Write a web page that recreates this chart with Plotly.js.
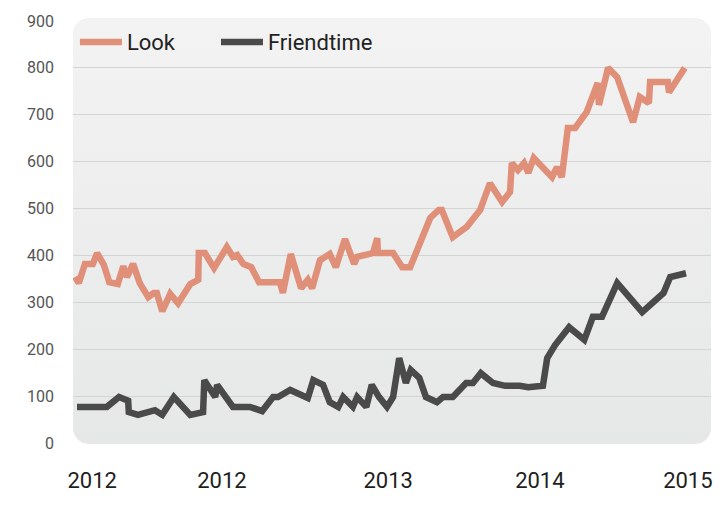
<!DOCTYPE html>
<html>
<head>
<meta charset="utf-8">
<script src="https://cdn.plot.ly/plotly-3.0.1.min.js"></script>
<style>html,body{margin:0;padding:0;background:#fff;}#chart{width:720px;height:529px;}</style>
</head>
<body>
<div id="chart"></div>
<script>
// time index (0 = first observation, 100 = last)
const lookT = [-0.3,0.3,1.3,2.6,3.3,4.4,5.3,6.7,7.6,8.2,9.2,10.3,11.7,12.6,13.1,14.0,15.3,16.6,18.6,19.9,20.0,21.0,22.5,24.6,25.6,26.3,27.3,28.6,29.9,33.3,33.8,35.1,36.8,37.9,38.6,39.9,41.5,42.5,44.0,45.5,46.0,48.6,49.3,49.4,51.9,53.4,54.7,58.0,59.4,59.9,61.7,64.0,66.2,67.8,69.8,71.1,71.4,72.4,73.4,74.1,75.0,78.0,78.8,79.6,80.6,81.8,83.7,85.5,85.7,87.2,88.7,90.0,91.3,92.4,93.9,94.1,97.0,97.2,99.8];
const lookVals = [354,341,382,382,405,380,343,339,377,354,382,341,311,320,320,281,318,298,339,348,405,405,373,418,397,401,382,375,343,343,320,403,330,348,330,390,403,375,435,382,397,405,437,405,405,375,375,480,497,497,439,461,497,554,514,535,597,582,597,576,608,567,588,567,672,672,706,768,721,800,780,736,684,738,725,770,770,748,800];

const friendT = [0,4.9,6.9,8.4,8.5,10.0,12.8,14.0,15.9,18.6,20.7,20.9,22.7,23.0,25.6,28.4,30.4,32.2,33.0,35.0,37.9,38.8,40.4,41.5,42.9,43.7,45.3,46.0,47.5,48.4,49.6,50.9,51.9,52.9,54.0,54.8,56.2,57.3,59.1,60.1,61.7,63.9,65.0,66.3,68.3,70.3,72.7,74.1,76.5,77.2,78.5,80.8,83.3,84.7,86.2,88.7,92.8,96.3,97.4,100.0];
const friendVals = [77,77,98,90,66,60,70,60,98,60,66,134,98,124,77,77,68,98,98,113,96,134,124,87,77,98,77,98,77,124,98,77,98,181,128,156,139,98,87,98,98,128,128,149,128,122,122,119,122,181,209,247,220,269,269,341,279,320,354,362];

const seriesNames = ["Look", "Friendtime"];
const xTickVals = [2.5, 23.8, 51.1, 76.0, 100.3];
const xTickText = ["2012", "2012", "2013", "2014", "2015"];
const yTickVals = [0,100,200,300,400,500,600,700,800,900];
const yGridVals = [100,200,300,400,500,600,700,800];

const bgSvg = "<svg xmlns='http://www.w3.org/2000/svg' width='638' height='426' viewBox='0 0 638 426' preserveAspectRatio='none'>" +
  "<defs><linearGradient id='g' x1='0' y1='0' x2='0' y2='1'><stop offset='0' stop-color='#f3f3f3'/><stop offset='1' stop-color='#e6e7e7'/></linearGradient></defs>" +
  "<rect x='0' y='0' width='638' height='426' rx='16' ry='16' fill='url(#g)'/></svg>";
const bgUri = "data:image/svg+xml;charset=utf-8," + encodeURIComponent(bgSvg);

const traces = [
  {x: lookT, y: lookVals, name: seriesNames[0], type: "scatter", mode: "lines", legend: "legend",
   line: {color: "#e08f79", width: 6.5}, hoverinfo: "x+y+name"},
  {x: friendT, y: friendVals, name: seriesNames[1], type: "scatter", mode: "lines", legend: "legend2",
   line: {color: "#4a4a4a", width: 6.5}, hoverinfo: "x+y+name"},
  {x: [], y: [], yaxis: "y2", showlegend: false, hoverinfo: "skip", type: "scatter", mode: "lines"}
];

const legendFont = {family: "Roboto, sans-serif", size: 22, color: "#222222"};

const layout = {
  width: 720, height: 529,
  margin: {l: 73, r: 9, t: 21, b: 86},
  paper_bgcolor: "#ffffff",
  plot_bgcolor: "rgba(0,0,0,0)",
  font: {family: "Roboto, 'DejaVu Sans', sans-serif"},
  showlegend: true,
  legend: {
    orientation: "h", x: 0.003, xanchor: "left", y: 0.95, yanchor: "middle",
    bgcolor: "rgba(0,0,0,0)", itemwidth: 42, font: legendFont
  },
  legend2: {
    orientation: "h", x: 0.2241, xanchor: "left", y: 0.95, yanchor: "middle",
    bgcolor: "rgba(0,0,0,0)", itemwidth: 42, font: legendFont
  },
  xaxis: {
    range: [-0.66, 104.1], showgrid: false, zeroline: false, showline: false,
    tickmode: "array", tickvals: xTickVals, ticktext: xTickText, ticks: "",
    ticklabelstandoff: 22,
    tickfont: {family: "Roboto, sans-serif", size: 22, color: "#1e1e1e"}
  },
  yaxis: {
    range: [0, 900], showgrid: false, zeroline: false, showline: false,
    tickmode: "array", tickvals: yTickVals, ticks: "",
    ticklabelstandoff: 18,
    tickfont: {family: "Roboto, sans-serif", size: 16, color: "#555555"}
  },
  yaxis2: {
    overlaying: "y", range: [0, 900], showgrid: true, gridcolor: "#d4d4d4", gridwidth: 1,
    zeroline: false, showline: false, showticklabels: false, ticks: "",
    tickmode: "array", tickvals: yGridVals, side: "left"
  },
  images: [{
    source: bgUri, xref: "paper", yref: "paper", x: 0, y: 1.0071,
    sizex: 1, sizey: 1.0095, xanchor: "left", yanchor: "top",
    sizing: "stretch", layer: "below"
  }]
};

Plotly.newPlot("chart", traces, layout, {displayModeBar: false, staticPlot: true});
</script>
</body>
</html>
